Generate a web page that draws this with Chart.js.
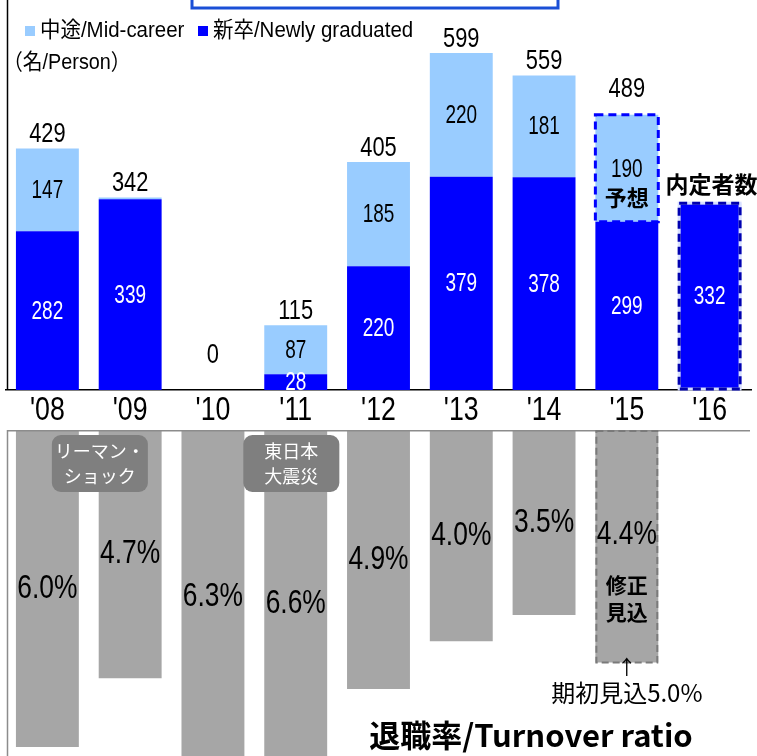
<!DOCTYPE html>
<html><head><meta charset="utf-8">
<script src="https://cdn.jsdelivr.net/npm/chart.js"></script>
<style>
html,body{margin:0;padding:0;background:#fff;overflow:hidden;width:757px;height:756px;}
#top{position:absolute;left:0;top:0;width:757px;height:428px;}
#bot{position:absolute;left:0;top:430px;width:757px;height:326px;}
</style></head><body>
<div id="top"><canvas id="c1"></canvas></div>
<div id="bot"><canvas id="c2"></canvas></div>
<script>
// ---- data ----
const years = ["'08","'09","'10","'11","'12","'13","'14","'15","'16"];
const newGrad = [282, 339, 0, 28, 220, 379, 378, 299, 332];
const midCareer = [147, 3, 0, 87, 185, 220, 181, 190, null];
const totals = [429, 342, 0, 115, 405, 599, 559, 489, null];
const turnover = [6.0, 4.7, 6.3, 6.6, 4.9, 4.0, 3.5, 4.4, null];
const turnoverLabels = ["6.0%","4.7%","6.3%","6.6%","4.9%","4.0%","3.5%","4.4%",""];
const seriesNames = ["中途/Mid-career", "新卒/Newly graduated"];
const unitLabel = "（名/Person）";
const forecastIndex = 7;   // '15 forecast
const offerIndex = 8;      // '16 offers
const events = [{at:0.634, lines:["リーマン・","ショック"]},{at:2.947, lines:["東日本","大震災"]}];

const SANS = '"Liberation Sans","Noto Sans CJK JP",sans-serif';
const CJK = '"Noto Sans CJK JP",sans-serif';
const BLUE = '#0000FF', LIGHT = '#99CCFF', GRAY = '#A6A6A6';

// condensed text helper (horizontal squeeze)
function nText(ctx, text, x, y, size, sx, align, bold){
  ctx.save();
  ctx.font = (bold ? 'bold ' : '') + size + 'px ' + SANS;
  ctx.translate(x, y); ctx.scale(sx, 1);
  ctx.textAlign = align || 'center'; ctx.textBaseline = 'middle';
  ctx.fillText(text, 0, 0);
  ctx.restore();
}

function dashedRect(ctx, x, y, w, h, color, width, dash, under){
  ctx.save();
  if (under){ ctx.setLineDash([]); ctx.strokeStyle = under; ctx.lineWidth = width; ctx.strokeRect(x,y,w,h); }
  ctx.setLineDash(dash); ctx.strokeStyle = color; ctx.lineWidth = width; ctx.strokeRect(x,y,w,h);
  ctx.restore();
}

const topPlugin = {
  id:'topPlugin',
  afterDatasetsDraw(chart){
    const ctx = chart.ctx, a = chart.chartArea, xs = chart.scales.x;
    const m0 = chart.getDatasetMeta(0), m1 = chart.getDatasetMeta(1);
    ctx.save();
    // left frame
    ctx.strokeStyle = '#000'; ctx.lineWidth = 1.5;
    ctx.beginPath(); ctx.moveTo(7.5, 0); ctx.lineTo(7.5, a.bottom); ctx.stroke();
    // title box (cropped)
    ctx.strokeStyle = '#1a4fd6'; ctx.lineWidth = 3;
    ctx.strokeRect(192, -10, 366, 18);
    // legend
    ctx.fillStyle = LIGHT; ctx.fillRect(25, 26, 10, 10);
    ctx.fillStyle = BLUE; ctx.fillRect(198, 26, 10, 10);
    ctx.fillStyle = '#000';
    nText(ctx, seriesNames[0], 40, 31, 22, 0.93, 'left');
    nText(ctx, seriesNames[1], 213, 31, 22, 0.93, 'left');
    nText(ctx, unitLabel, 3, 63, 22, 0.9, 'left');

    // x tick labels
    years.forEach((y,i)=>{ nText(ctx, y, xs.getPixelForValue(i), a.bottom + 21, 33, 0.81, 'center'); });

    // dashed borders
    const f = m1.data[forecastIndex];
    dashedRect(ctx, f.x - f.width/2, f.y, f.width, f.base - f.y, BLUE, 3, [8,5]);
    const o = m0.data[offerIndex];
    dashedRect(ctx, o.x - o.width/2 + 1, o.y, o.width - 2, o.base - o.y - 1, '#0000b0', 3, [8,5], '#d8e0ff');

    // segment labels
    newGrad.forEach((v,i)=>{
      if (!v) return;
      const el = m0.data[i];
      ctx.fillStyle = '#fff';
      nText(ctx, String(v), el.x, (el.y + el.base)/2 + 1, 25, 0.76);
    });
    midCareer.forEach((v,i)=>{
      if (!v || v < 10) return;
      const el = m1.data[i];
      ctx.fillStyle = '#000';
      if (i === forecastIndex){
        nText(ctx, String(v), el.x, (el.y + el.base)/2 + 2, 25, 0.76);
        ctx.font = 'bold 22px ' + CJK; ctx.textAlign = 'center'; ctx.textBaseline = 'middle';
        ctx.fillText('予想', el.x, (el.y + el.base)/2 + 29);
      } else {
        nText(ctx, String(v), el.x, (el.y + el.base)/2 + 1, 25, 0.76);
      }
    });
    // totals
    ctx.fillStyle = '#000';
    totals.forEach((t,i)=>{
      if (t === null) return;
      const el0 = m0.data[i], el1 = m1.data[i];
      const topY = Math.min(el0.y, el1.y);
      let y = topY - 14;
      if (i === forecastIndex) y = topY - 26;
      y = Math.min(y, el0.base - 35);
      nText(ctx, String(t), el0.x, y, 28, 0.78);
    });
    // offers label
    ctx.font = 'bold 23px ' + CJK; ctx.textAlign = 'center'; ctx.textBaseline = 'middle';
    ctx.fillText('内定者数', o.x + 2, o.y - 19);
    ctx.restore();
  }
};

new Chart(document.getElementById('c1'), {
  type:'bar',
  data:{labels:years, datasets:[
    {label:seriesNames[1], data:newGrad, backgroundColor:BLUE, stack:'s'},
    {label:seriesNames[0], data:midCareer, backgroundColor:LIGHT, stack:'s'}
  ]},
  options:{
    responsive:true, maintainAspectRatio:false, animation:false,
    layout:{padding:{left:6, right:6, top:0, bottom:0}},
    plugins:{legend:{display:false}, tooltip:{enabled:false}},
    datasets:{bar:{categoryPercentage:1, barPercentage:0.76}},
    scales:{
      x:{stacked:true, grid:{display:false, drawTicks:false},
         border:{display:true, color:'#000', width:1.5},
         ticks:{display:false},
         afterFit:(s)=>{ s.height = 38; }},
      y:{stacked:true, display:false, min:0, max:693}
    }
  },
  plugins:[topPlugin]
});

const botPlugin = {
  id:'botPlugin',
  afterDatasetsDraw(chart){
    const ctx = chart.ctx, a = chart.chartArea;
    const m = chart.getDatasetMeta(0);
    const xs = chart.scales.x;
    ctx.save();
    // frame
    ctx.strokeStyle = '#8c8c8c'; ctx.lineWidth = 1.5;
    ctx.beginPath(); ctx.moveTo(7.5, a.bottom); ctx.lineTo(7.5, 0.75); ctx.lineTo(750, 0.75); ctx.stroke();
    // forecast dashed border
    const f = m.data[forecastIndex];
    dashedRect(ctx, f.x - f.width/2 + 1, f.base + 1, f.width - 2, f.y - f.base - 1, '#7a7a7a', 2, [7,4]);
    // labels
    ctx.fillStyle = '#000';
    turnover.forEach((v,i)=>{
      if (v === null) return;
      const el = m.data[i];
      let y = (el.y + el.base)/2;
      if (i === forecastIndex) y -= 11;
      nText(ctx, turnoverLabels[i], el.x, y, 33, 0.8);
    });
    ctx.textAlign = 'center'; ctx.textBaseline = 'middle';
    ctx.font = 'bold 21px ' + CJK;
    ctx.fillText('修正', f.x, 155);
    ctx.fillText('見込', f.x, 182);
    ctx.font = '20px ' + CJK;
    ctx.fillText('↑', f.x, 237);
    ctx.font = '24px ' + CJK;
    ctx.fillText('期初見込5.0%', f.x, 263);
    // event boxes
    events.forEach(ev=>{
      const cx = xs.getPixelForValue(ev.at);
      ctx.fillStyle = '#7f7f7f';
      ctx.beginPath(); ctx.roundRect(cx - 48, 5, 96, 57, 9); ctx.fill();
      ctx.fillStyle = '#fff'; ctx.font = '18px ' + CJK;
      ctx.fillText(ev.lines[0], cx, 21);
      ctx.fillText(ev.lines[1], cx, 46);
    });
    // title
    ctx.fillStyle = '#000'; ctx.font = 'bold 31px ' + CJK;
    ctx.fillText('退職率/Turnover ratio', 531, 305);
    ctx.restore();
  }
};

new Chart(document.getElementById('c2'), {
  type:'bar',
  data:{labels:years, datasets:[{label:'退職率/Turnover ratio', data:turnover, backgroundColor:GRAY}]},
  options:{
    responsive:true, maintainAspectRatio:false, animation:false,
    layout:{padding:{left:6, right:6, top:0, bottom:0}},
    plugins:{legend:{display:false}, tooltip:{enabled:false}},
    datasets:{bar:{categoryPercentage:1, barPercentage:0.76}},
    scales:{
      x:{display:false},
      y:{display:false, reverse:true, min:0, max:6.17}
    }
  },
  plugins:[botPlugin]
});
</script>
</body></html>
